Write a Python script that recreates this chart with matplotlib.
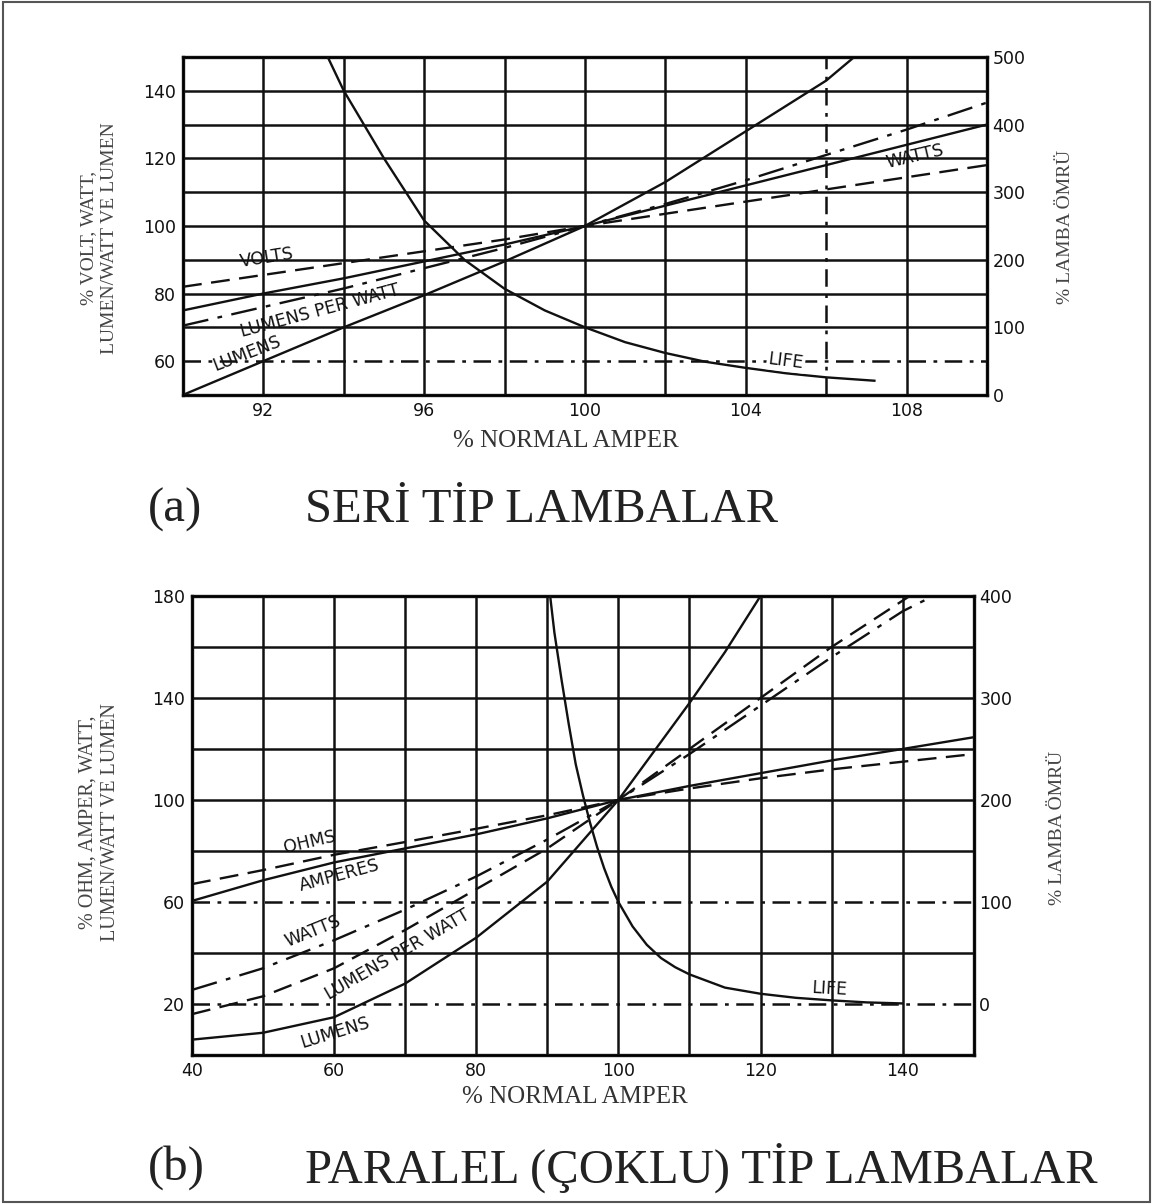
import matplotlib
matplotlib.use("Agg")
import matplotlib.pyplot as plt
from matplotlib.patches import Rectangle

# ---- (a) series lamps: x = % normal ampere ----
a_x = [90, 92, 94, 96, 98, 100, 102, 104, 106, 108, 110]
a_volts = [82, 85.5, 89, 92.5, 96, 100, 103.6, 107.2, 110.8, 114.4, 118]
a_watts = [75, 80, 84.5, 89.5, 94.5, 100, 106, 112, 118, 124, 130]
a_lpw = [70.5, 76, 81.5, 87.5, 93.5, 100, 106.5, 113.5, 121, 128.5, 136.5]
a_lum_x = [90, 92, 94, 96, 98, 100, 102, 104, 106, 106.7]
a_lumens = [50, 60, 70, 79.5, 89.5, 100, 113, 128, 143, 150]
a_life_x = [93.6, 94, 95, 96, 97, 98, 99, 100, 101, 102, 103, 104, 105, 106, 107.2]
a_life = [500, 450, 350, 258, 200, 157, 125, 100, 78, 62, 49, 40, 32, 26, 21]

# ---- (b) parallel lamps ----
b_x = [40, 50, 60, 70, 80, 90, 100, 110, 120, 130, 140, 150]
b_ohms = [67, 72.5, 78.5, 83.5, 88.7, 94, 100, 104.5, 108.5, 112, 115, 118]
b_amps = [60.4, 68.5, 75.5, 81, 86.5, 92.8, 100, 105.5, 110.5, 115.5, 120, 124.6]
b_watts_x = [40, 50, 60, 70, 80, 90, 100, 110, 120, 130, 140, 144.3]
b_watts = [25.5, 34, 45, 57, 70, 84.5, 100, 118, 137, 156, 174, 180]
b_lpw_x = [40, 50, 60, 70, 80, 90, 100, 110, 120, 130, 141]
b_lpw = [16, 23, 34, 49, 65, 81, 100, 120, 140, 160, 180]
b_lum_x = [40, 50, 60, 70, 80, 90, 100, 110, 115, 120]
b_lumens = [6, 8.7, 14.8, 28, 46, 68, 100, 138, 158, 180]
b_life_x = [90.4, 91, 92, 93, 94, 95, 96, 97, 98, 99, 100, 102, 104, 106, 108,
            110, 115, 120, 125, 130, 135, 140]
b_life = [400, 364, 318, 275, 235, 205, 178, 154, 133, 115, 100, 76, 58, 45, 36,
          29, 16, 10, 6, 3.5, 1.5, 0.5]

DASH = (0, (8, 4))
DASHDOT = (0, (11, 4, 2, 4))
GRID_DD = (0, (7, 3, 1.5, 3))
INK = "#111111"

fig = plt.figure(figsize=(11.53, 12.04), dpi=100)
fig.patches.append(Rectangle((0.003, 0.002), 0.994, 0.996, transform=fig.transFigure,
                             fill=False, edgecolor="#555555", lw=1.5))


def grid(ax, xs, ys, dashed_x=(), dashed_y=()):
    for v in xs:
        ax.axvline(v, color=INK, lw=1.8, ls=GRID_DD if v in dashed_x else "-", zorder=1)
    for v in ys:
        ax.axhline(v, color=INK, lw=1.8, ls=GRID_DD if v in dashed_y else "-", zorder=1)
    for s in ax.spines.values():
        s.set_linewidth(2.4)
        s.set_color(INK)


def label(ax, x, y, txt, rot, box=False):
    kw = dict(fontsize=12.5, family="DejaVu Sans", color=INK, rotation=rot,
              ha="center", va="center", rotation_mode="anchor", zorder=5)
    if box:
        kw["bbox"] = dict(facecolor="white", edgecolor="none", pad=1)
    ax.text(x, y, txt, **kw)


tick_font = dict(fontsize=12.5, family="DejaVu Sans", color=INK)
serif = ["Liberation Serif", "DejaVu Serif"]

# ================= (a) =================
ax = fig.add_axes([0.1587, 0.672, 0.6973, 0.2807])
ax.set_xlim(90, 110)
ax.set_ylim(50, 150)
grid(ax, range(92, 110, 2), range(60, 150, 10), dashed_x=(106,), dashed_y=(60,))
ax.plot(a_x, a_volts, color=INK, lw=1.7, ls=DASH, zorder=3)
ax.plot(a_x, a_watts, color=INK, lw=1.7, zorder=3)
ax.plot(a_x, a_lpw, color=INK, lw=1.7, ls=DASHDOT, zorder=3)
ax.plot(a_lum_x, a_lumens, color=INK, lw=1.7, zorder=3)
ax.set_xticks([92, 96, 100, 104, 108])
ax.set_yticks([60, 80, 100, 120, 140])
ax.tick_params(length=0, pad=5)
for t in ax.get_xticklabels() + ax.get_yticklabels():
    t.set(**tick_font)
label(ax, 92.1, 90.5, "VOLTS", 9)
label(ax, 93.4, 74.8, "LUMENS PER WATT", 15)
label(ax, 91.6, 62.3, "LUMENS", 21)
label(ax, 108.2, 120.6, "WATTS", 13)
ax2 = ax.twinx()
ax2.set_ylim(0, 500)
ax2.plot(a_life_x, a_life, color=INK, lw=1.7, zorder=3)
ax2.set_yticks(range(0, 501, 100))
ax2.tick_params(length=0, pad=4)
for t in ax2.get_yticklabels():
    t.set(**tick_font)
ax2.text(105.0, 50, "LIFE", fontsize=12.5, color=INK, rotation=-7, ha="center",
         va="center", rotation_mode="anchor", zorder=5,
         bbox=dict(facecolor="white", edgecolor="none", pad=1))

fig.text(99 / 1153, 1 - 238 / 1204, "% VOLT, WATT,\nLUMEN/WATT VE LUMEN", rotation=90,
         ha="center", va="center", multialignment="center", fontsize=14, family=serif,
         color="#444444", linespacing=1.25)
fig.text(1065 / 1153, 1 - 227 / 1204, "% LAMBA ÖMRÜ", rotation=90, ha="center",
         va="center", fontsize=14, family=serif, color="#444444")
fig.text(566 / 1153, 1 - 441 / 1204, "% NORMAL AMPER", ha="center", va="center",
         fontsize=18, family=serif, color="#333333")
fig.text(148 / 1153, 1 - 510 / 1204, "(a)", ha="left", va="center", fontsize=35,
         family=serif, color="#222222")
fig.text(305 / 1153, 1 - 510 / 1204, "SERİ TİP LAMBALAR", ha="left", va="center",
         fontsize=35, family=serif, color="#222222")

# ================= (b) =================
bx = fig.add_axes([0.1665, 0.1238, 0.678, 0.3812])
bx.set_xlim(40, 150)
bx.set_ylim(0, 180)
grid(bx, range(50, 150, 10), range(20, 180, 20), dashed_y=(20, 60))
bx.plot(b_x, b_ohms, color=INK, lw=1.7, ls=DASH, zorder=3)
bx.plot(b_x, b_amps, color=INK, lw=1.7, zorder=3)
bx.plot(b_watts_x, b_watts, color=INK, lw=1.7, ls=DASHDOT, zorder=3)
bx.plot(b_lpw_x, b_lpw, color=INK, lw=1.7, ls=DASH, zorder=3)
bx.plot(b_lum_x, b_lumens, color=INK, lw=1.7, zorder=3)
bx.set_xticks([40, 60, 80, 100, 120, 140])
bx.set_yticks([20, 60, 100, 140, 180])
bx.tick_params(length=0, pad=5)
for t in bx.get_xticklabels() + bx.get_yticklabels():
    t.set(**tick_font)
label(bx, 56.5, 83.5, "OHMS", 13)
label(bx, 60.8, 70.5, "AMPERES", 15)
label(bx, 57.0, 48.5, "WATTS", 22)
label(bx, 69.0, 39.5, "LUMENS PER WATT", 30)
label(bx, 60.2, 8.6, "LUMENS", 17)
bx2 = bx.twinx()
bx2.set_ylim(-50, 400)
bx2.plot(b_life_x, b_life, color=INK, lw=1.7, zorder=3)
bx2.set_yticks(range(0, 401, 100))
bx2.tick_params(length=0, pad=4)
for t in bx2.get_yticklabels():
    t.set(**tick_font)
bx2.text(129.7, 15, "LIFE", fontsize=12.5, color=INK, rotation=-3, ha="center",
         va="center", rotation_mode="anchor", zorder=5)

fig.text(99 / 1153, 1 - 822 / 1204, "% OHM, AMPER, WATT,\nLUMEN/WATT VE LUMEN", rotation=90,
         ha="center", va="center", multialignment="center", fontsize=14.5, family=serif,
         color="#444444", linespacing=1.25)
fig.text(1058 / 1153, 1 - 828 / 1204, "% LAMBA ÖMRÜ", rotation=90, ha="center",
         va="center", fontsize=14, family=serif, color="#444444")
fig.text(575 / 1153, 1 - 1097 / 1204, "% NORMAL AMPER", ha="center", va="center",
         fontsize=18, family=serif, color="#333333")
fig.text(148 / 1153, 1 - 1168 / 1204, "(b)", ha="left", va="center", fontsize=35,
         family=serif, color="#222222")
fig.text(305 / 1153, 1 - 1168 / 1204, "PARALEL (ÇOKLU) TİP LAMBALAR", ha="left",
         va="center", fontsize=35, family=serif, color="#222222")

fig.savefig("out.png", dpi=100)
